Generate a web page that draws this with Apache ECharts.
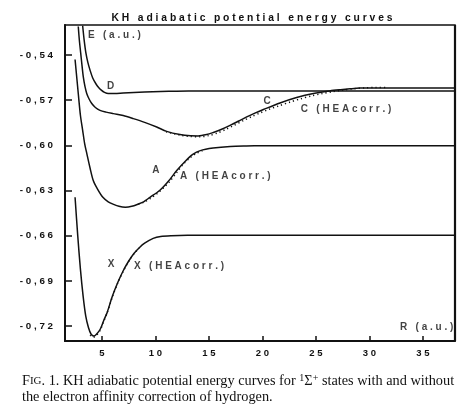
<!DOCTYPE html>
<html><head><meta charset="utf-8">
<script src="https://cdn.jsdelivr.net/npm/echarts@6/dist/echarts.min.js"></script>
<style>html,body{margin:0;padding:0;background:#fff}#c{width:474px;height:418px}</style>
</head><body><div id="c"></div>
<script>
// ---- data (R in a.u., E in a.u.) ----
const curveD = [[3.21,-0.5205],[3.35,-0.530],[3.52,-0.5389],[3.7,-0.545],[3.9,-0.550],[4.15,-0.5552],[4.46,-0.5592],[4.7,-0.5615],[4.95,-0.5633],[5.25,-0.5648],[5.6,-0.5656],[6.2,-0.5656],[7,-0.5652],[8,-0.5648],[9,-0.5645],[10.5,-0.5642],[12,-0.5640],[14.2,-0.5639],[38,-0.5639]];
const curveC = [[2.8,-0.521],[2.9,-0.530],[3.03,-0.5389],[3.15,-0.547],[3.27,-0.5545],[3.43,-0.561],[3.59,-0.5655],[3.8,-0.569],[4.06,-0.5722],[4.4,-0.5748],[4.83,-0.5767],[5.4,-0.5779],[6.07,-0.5789],[7.0,-0.5802],[7.94,-0.5822],[9.0,-0.5847],[10.13,-0.5878],[11.06,-0.5907],[12.3,-0.5928],[13.3,-0.5936],[14.0,-0.5937],[14.8,-0.5928],[15.42,-0.5914],[16.2,-0.5893],[16.98,-0.5867],[17.8,-0.5838],[18.54,-0.5811],[19.3,-0.5786],[20.1,-0.5762],[21.65,-0.5718],[23.2,-0.5682],[24.77,-0.5655],[26.3,-0.5638],[27.3,-0.5630],[28.2,-0.5624],[29.1,-0.5619],[30,-0.5618],[38,-0.5618]];
const curveCHEA = [[11.0,-0.5909],[12.3,-0.5932],[13.3,-0.5941],[14.2,-0.5943],[15.0,-0.5935],[15.8,-0.5918],[16.6,-0.5893],[17.4,-0.5865],[18.2,-0.5836],[19.0,-0.5809],[19.8,-0.5784],[20.6,-0.5761],[21.6,-0.5736],[22.6,-0.5712],[23.6,-0.5690],[24.6,-0.5671],[25.6,-0.5656],[26.6,-0.5643],[27.6,-0.5632],[28.6,-0.5623],[29.6,-0.5618],[30.6,-0.5615],[31.7,-0.5615]];
const curveA = [[2.5,-0.5429],[2.8,-0.5655],[3.0,-0.580],[3.21,-0.590],[3.4,-0.599],[3.6,-0.6055],[3.9,-0.615],[4.2,-0.6233],[4.6,-0.629],[5.1,-0.6345],[5.6,-0.6375],[6.1,-0.6392],[6.6,-0.6405],[7.2,-0.6411],[7.8,-0.6405],[8.4,-0.6390],[8.9,-0.6375],[9.5,-0.6345],[10.4,-0.630],[11.2,-0.624],[12.0,-0.6167],[12.8,-0.6105],[13.5,-0.606],[14.2,-0.6035],[15.4,-0.6018],[17,-0.6007],[18.5,-0.6004],[20,-0.6003],[38,-0.6003]];
const curveAHEA = [[8.4,-0.6392],[9.0,-0.6375],[9.6,-0.6350],[10.2,-0.6318],[10.8,-0.6280],[11.4,-0.6235],[12.0,-0.6180],[12.6,-0.6125],[13.2,-0.6085],[13.8,-0.6055],[14.4,-0.6036]];
const curveX = [[2.5,-0.6345],[2.75,-0.660],[3.0,-0.6822],[3.25,-0.700],[3.5,-0.7135],[3.75,-0.7210],[4.0,-0.7255],[4.25,-0.7267],[4.5,-0.7255],[4.85,-0.7222],[5.2,-0.716],[5.5,-0.711],[6.0,-0.700],[6.5,-0.691],[7.0,-0.6833],[7.5,-0.677],[8.0,-0.6718],[8.5,-0.668],[9.0,-0.665],[9.8,-0.6618],[10.5,-0.6605],[11.5,-0.6600],[13,-0.6598],[38,-0.6598]];
const curveXHEA = [[3.9,-0.7262],[4.2,-0.7275],[4.5,-0.7262],[4.85,-0.7228],[5.2,-0.7165],[5.5,-0.7112],[6.0,-0.7004],[6.5,-0.6913],[7.0,-0.6836],[7.5,-0.6772],[8.0,-0.6720],[8.5,-0.6682]];
const yTicks = [-0.72,-0.69,-0.66,-0.63,-0.60,-0.57,-0.54];
const xTicks = [5,10,15,20,25,30,35];
const labelTexts = ['E (a.u.)','D','C','C (HEAcorr.)','A','A (HEAcorr.)','X','X (HEAcorr.)','R (a.u.)'];
const labelCoords = [[3.71,-0.5267],[5.83,-0.5605],[20.44,-0.5705],[23.59,-0.5762],[10.04,-0.6167],[12.31,-0.6207],[5.86,-0.6789],[8.01,-0.680],[32.86,-0.7207]];
const labelAlign = ['left','center','center','left','center','left','center','left','left'];
const titleText = 'KH adiabatic potential energy curves';

// ---- chart ----
const spaced = s => s.split('').join(' ');
const ink = '#111';
const solid = (d) => ({type:'line', data:d, showSymbol:false, smooth:0.3, clip:true,
  lineStyle:{color:ink, width:1.5}, silent:true, z:3});
const dotted = (d) => ({type:'line', data:d, showSymbol:false, smooth:0.3, clip:true,
  lineStyle:{color:ink, width:1.5, type:[1.2,3]}, silent:true, z:2});

const chart = echarts.init(document.getElementById('c'), null, {renderer:'canvas'});
const labelFont = {fontFamily:'Liberation Sans, Arial, sans-serif', fontWeight:'bold', fontSize:10, color:ink};
chart.setOption({
  animation:false,
  backgroundColor:'#fff',
  title:{text:spaced(titleText), left:247, top:8, textAlign:'center',
    textStyle:{fontFamily:'Liberation Sans, Arial, sans-serif', fontWeight:'bold', fontSize:10.3, color:ink}},
  grid:{left:65, right:19, top:25, bottom:77, show:true, borderColor:ink, borderWidth:1.5},
  xAxis:{type:'value', min:1.56, max:38,
    axisLine:{show:true, onZero:false, lineStyle:{color:ink, width:2}},
    axisTick:{show:true, inside:true, length:5, customValues:xTicks, lineStyle:{color:ink, width:1.5}},
    axisLabel:{customValues:xTicks, margin:7, formatter:v=>spaced(String(v)), ...labelFont, fontSize:9.5},
    splitLine:{show:false}},
  yAxis:{type:'value', min:-0.73, max:-0.52,
    axisLine:{show:true, onZero:false, lineStyle:{color:ink, width:2}},
    axisTick:{show:true, inside:true, length:7, customValues:yTicks, lineStyle:{color:ink, width:1.5}},
    axisLabel:{customValues:yTicks, margin:12, formatter:v=>spaced(v.toFixed(2).replace('.',',')), ...labelFont, fontSize:9.8},
    splitLine:{show:false}},
  series:[
    solid(curveD), solid(curveC), dotted(curveCHEA),
    solid(curveA), dotted(curveAHEA),
    solid(curveX), dotted(curveXHEA),
    {type:'scatter', symbolSize:0, silent:true, z:5,
     data: labelTexts.map((t,i)=>({value:labelCoords[i],
       label:{show:true, position:'inside', formatter:spaced(t), align:labelAlign[i], verticalAlign:'middle', ...labelFont}}))},
    {type:'line', data:[[38,-0.73],[38,-0.52]], showSymbol:false, clip:false, silent:true, z:6,
     lineStyle:{color:ink, width:2.2}}
  ],
  graphic:[
    {type:'text', left:22, top:373, style:{
      text:'{a|F}{b|IG}{a|. 1. KH adiabatic potential energy curves for }{s|1}{a|Σ}{s|+}{a| states with and without}',
      rich:{a:{fontFamily:'Liberation Serif, Times New Roman, serif', fontSize:14.3, fill:'#111'},
            b:{fontFamily:'Liberation Serif, Times New Roman, serif', fontSize:11, fill:'#111'},
            s:{fontFamily:'Liberation Serif, Times New Roman, serif', fontSize:10, fill:'#111', verticalAlign:'top', padding:[0,0,6,0]}}}},
    {type:'text', left:22, top:390, style:{text:'the electron affinity correction of hydrogen.',
      fontFamily:'Liberation Serif, Times New Roman, serif', fontSize:14.3, fill:'#111'}}
  ]
});
</script></body></html>
